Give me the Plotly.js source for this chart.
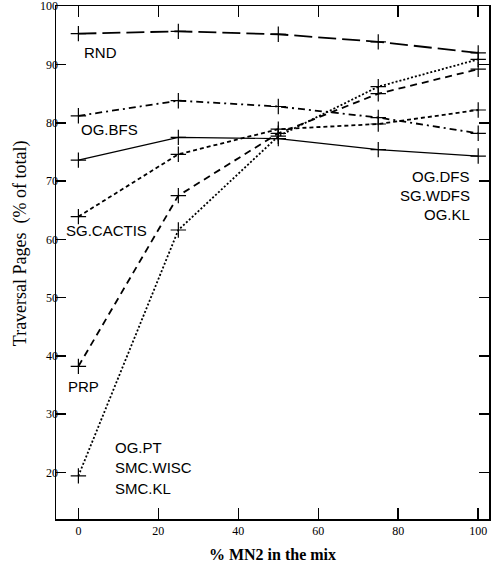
<!DOCTYPE html>
<html>
<head>
<meta charset="utf-8">
<script src="https://cdn.plot.ly/plotly-3.0.1.min.js"></script>
<style>html,body{margin:0;padding:0;background:#fff;}#chart{width:492px;height:569px;}</style>
</head>
<body>
<div id="chart"></div>
<script>
const mixPct = [0, 25, 50, 75, 100];
const seriesNames = ["RND", "OG.BFS", "OG.DFS / SG.WDFS / OG.KL", "SG.CACTIS", "PRP", "OG.PT / SMC.WISC / SMC.KL"];
const rnd    = [95.3, 95.7, 95.2, 93.9, 92.0];
const ogBfs  = [81.2, 83.8, 82.8, 80.9, 78.2];
const ogDfs  = [73.6, 77.5, 77.3, 75.4, 74.3];
const cactis = [63.9, 74.6, 78.9, 79.8, 82.2];
const prp    = [38.2, 67.5, 78.2, 85.0, 89.2];
const ogPt   = [19.4, 61.6, 77.7, 86.2, 90.9];
const xTicks = [0, 20, 40, 60, 80, 100];
const yTicks = [20, 30, 40, 50, 60, 70, 80, 90, 100];
const yTitle = 'Traversal Pages  (% of total)';
const xTitle = '% MN2 in the mix';

const values = [rnd, ogBfs, ogDfs, cactis, prp, ogPt];
const dashes = ["18px,6px", "7px,4px,2px,4px", "solid", "4px,3px", "7px,5px", "2px,2px"];
const widths = [1.8, 1.8, 1.2, 1.8, 1.8, 1.8];

const traces = values.map((v, i) => ({
  x: mixPct, y: v, name: seriesNames[i], type: 'scatter', mode: 'lines+markers',
  line: {color: '#000', width: widths[i], dash: dashes[i]},
  marker: {symbol: 'cross-thin', size: 11, color: '#000', line: {width: 1.2, color: '#000'}},
  cliponaxis: false
}));

const lblFont = {family: 'Liberation Sans, Arial, sans-serif', size: 15, color: '#000'};
function lab(text, x, y, anchor) {
  return {text: text, x: x, y: y, xref: 'x', yref: 'y', showarrow: false, xanchor: anchor, yanchor: 'middle', font: lblFont};
}
const annotations = [
  lab('RND', 1.0, 92.1, 'left'),
  lab('OG.BFS', 0.2, 78.9, 'left'),
  lab('SG.CACTIS', -3.6, 61.6, 'left'),
  lab('PRP', -3.1, 34.8, 'left'),
  lab('OG.PT', 8.7, 24.2, 'left'),
  lab('SMC.WISC', 8.7, 20.8, 'left'),
  lab('SMC.KL', 8.7, 17.3, 'left'),
  lab('OG.DFS', 98.4, 70.8, 'right'),
  lab('SG.WDFS', 98.4, 67.6, 'right'),
  lab('OG.KL', 98.4, 64.3, 'right'),
  {text: yTitle, xref: 'paper', yref: 'paper', x: -0.0815, y: 0.537, textangle: -90,
   showarrow: false, xanchor: 'center', yanchor: 'middle',
   font: {family: 'Liberation Serif, Times New Roman, serif', size: 18, color: '#000'}}
];

const layout = {
  width: 492, height: 569,
  margin: {l: 56, r: 3, t: 6, b: 50},
  paper_bgcolor: '#fff', plot_bgcolor: '#fff',
  showlegend: false,
  annotations: annotations,
  xaxis: {
    range: [-5.6, 102.7], tickvals: xTicks, ticktext: xTicks.map(String),
    showgrid: false, zeroline: false, showline: true, linecolor: '#000', linewidth: 1.5,
    mirror: 'ticks', ticks: 'inside', ticklen: 11, tickwidth: 1.5, tickcolor: '#000',
    tickfont: {family: 'Liberation Serif, Times New Roman, serif', size: 12, color: '#000'},
    title: {text: xTitle, standoff: 12,
      font: {family: 'Liberation Serif, Times New Roman, serif', size: 16, color: '#000', weight: 'bold'}}
  },
  yaxis: {
    range: [12, 100.05], tickvals: yTicks, ticktext: yTicks.map(String),
    showgrid: false, zeroline: false, showline: true, linecolor: '#000', linewidth: 1.5,
    mirror: 'ticks', ticks: 'inside', ticklen: 10, tickwidth: 1.5, tickcolor: '#000',
    ticklabelstandoff: -6, ticklabeloverflow: 'allow',
    tickfont: {family: 'Liberation Serif, Times New Roman, serif', size: 12, color: '#000'}
  }
};

Plotly.newPlot('chart', traces, layout, {displayModeBar: false, staticPlot: true});
</script>
</body>
</html>
